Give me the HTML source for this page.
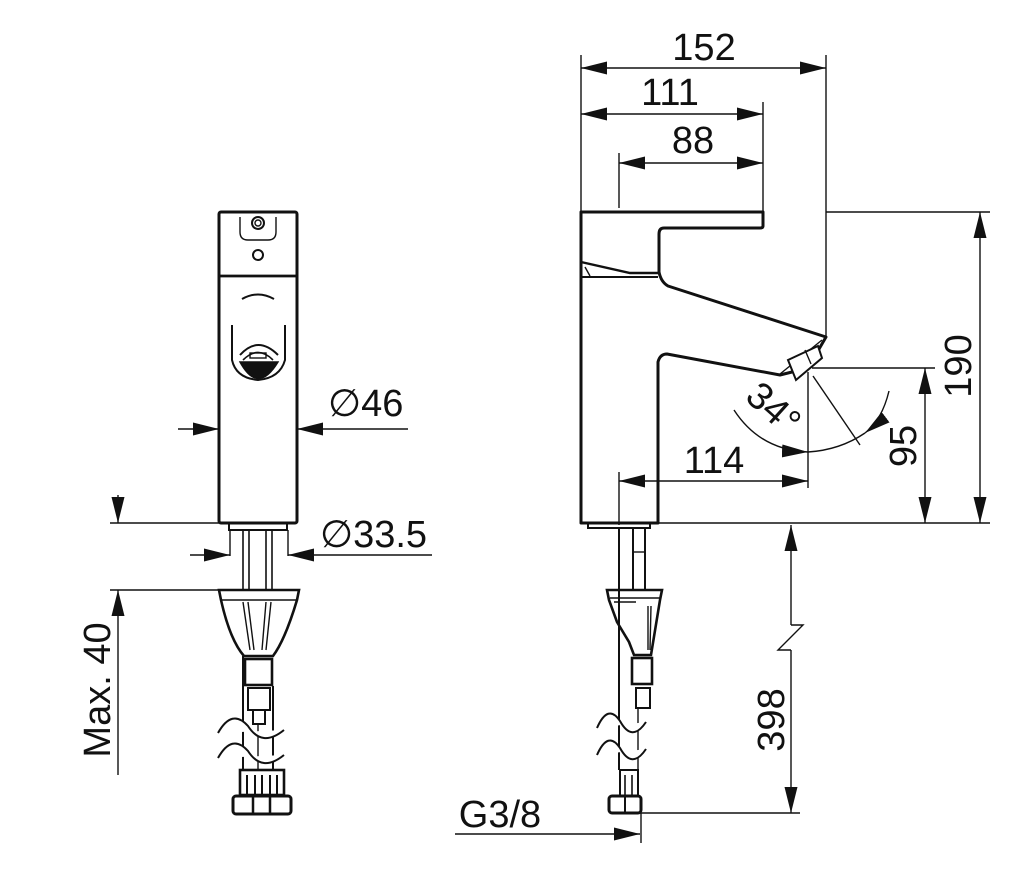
<!DOCTYPE html>
<html><head><meta charset="utf-8"><style>
html,body{margin:0;padding:0;background:#fff;}
svg{display:block;}
text{font-family:"Liberation Sans",sans-serif;fill:#111;}
</style></head><body>
<svg width="1024" height="875" viewBox="0 0 1024 875" xmlns="http://www.w3.org/2000/svg">
<defs>
<marker id="a" viewBox="0 0 26 13" refX="26" refY="6.5" markerWidth="26" markerHeight="13" markerUnits="userSpaceOnUse" orient="auto-start-reverse"><path d="M0,0 L26,6.5 L0,13 Z" fill="#111"/></marker>
</defs>
<g stroke="#111" fill="none" stroke-width="1.4">
<!-- LEFT VIEW body -->
<rect x="219" y="212" width="78" height="311" stroke-width="3" rx="2"/>
<line x1="219" y1="276" x2="297" y2="276" stroke-width="2.8"/>
<path d="M240,217 L240,232 Q240,240 248,240 L268,240 Q276,240 276,232 L276,217"/>
<circle cx="258" cy="223" r="6" stroke-width="2"/><circle cx="258" cy="223" r="3"/>
<circle cx="258" cy="255" r="5" stroke-width="2"/>
<path d="M242,299 Q258,290 274,299" stroke-width="2"/>
<path d="M232,325 L232,360 Q236,378 258,380 Q280,378 285,360 L285,325" stroke-width="2"/>
<path d="M240,355 Q258,335 278,355" stroke-width="2"/>
<path d="M243,360 Q258,345 273,360" stroke-width="1.6"/>
<path d="M240,362 Q258,395 278,362 Z" fill="#111"/>
<rect x="250" y="353" width="16" height="5"/>
<!-- Ø46 -->
<line x1="178" y1="429" x2="219" y2="429" marker-end="url(#a)"/>
<line x1="297" y1="429" x2="408" y2="429" marker-start="url(#a)"/>
<!-- under body -->
<line x1="110" y1="523" x2="219" y2="523"/>
<path d="M229,523 L229,530 L287,530 L287,523" stroke-width="2"/>
<line x1="230" y1="530" x2="230" y2="556"/><line x1="288" y1="530" x2="288" y2="556"/>
<rect x="243" y="530" width="6" height="60" stroke-width="1.6"/>
<rect x="266" y="530" width="6" height="60" stroke-width="1.6"/>
<line x1="190" y1="555" x2="230" y2="555" marker-end="url(#a)"/>
<line x1="288" y1="555" x2="432" y2="555" marker-start="url(#a)"/>
<!-- Max 40 -->
<line x1="118" y1="495" x2="118" y2="523" marker-end="url(#a)"/>
<line x1="118" y1="775" x2="118" y2="590" marker-end="url(#a)"/>
<line x1="110" y1="590" x2="220" y2="590"/>
<!-- left fitting -->
<path d="M219,590 L299,590 L297,600 Q285,640 273,656 L244,656 Q230,640 221,600 Z" stroke-width="2.6"/>
<line x1="221" y1="600" x2="297" y2="600"/>
<path d="M243,602 L250,650 M248,602 L254,650 M266,602 L262,650 M271,602 L266,650"/>
<rect x="245" y="659" width="27" height="26" stroke-width="2.6"/>
<rect x="248" y="688" width="22" height="22" stroke-width="2"/>
<rect x="253" y="710" width="12" height="14" stroke-width="2"/>
<line x1="243" y1="656" x2="243" y2="770" stroke-width="2"/><line x1="273" y1="686" x2="273" y2="770" stroke-width="2"/>
<line x1="258" y1="724" x2="258" y2="770"/>
<path d="M218,733 Q232,708 248,726 Q262,748 284,730" stroke-width="2" fill="#fff"/>
<path d="M218,758 Q232,733 248,751 Q262,773 284,755" stroke-width="2" fill="#fff"/>
<rect x="240" y="770" width="44" height="25" stroke-width="2.6"/>
<path d="M247,775 L247,795 M255,775 L255,795 M262,775 L262,795 M270,775 L270,795 M277,775 L277,795" stroke-width="2"/>
<rect x="233" y="796" width="58" height="18" rx="3" stroke-width="3"/>
<path d="M253,796 L253,814 M270,796 L270,814" stroke-width="2.5"/>

<!-- RIGHT VIEW -->
<line x1="581" y1="55" x2="581" y2="212"/>
<line x1="826" y1="55" x2="826" y2="337"/>
<line x1="763" y1="102" x2="763" y2="212"/>
<line x1="619" y1="153" x2="619" y2="208"/>
<line x1="581" y1="68" x2="826" y2="68" marker-start="url(#a)" marker-end="url(#a)"/>
<line x1="581" y1="114" x2="763" y2="114" marker-start="url(#a)" marker-end="url(#a)"/>
<line x1="619" y1="163" x2="763" y2="163" marker-start="url(#a)" marker-end="url(#a)"/>
<path d="M581,212 L763,212 L763,226 Q763,228 760,228 L664,228 Q659,228 659,234 L659,272 Q661,282 668,286 L826,337 L808,368 L780,375 L667,354 Q660,354 658,362 L658,523 L581,523 Z" stroke-width="3" stroke-linejoin="round"/>
<path d="M581,262 L630,273 L658,273" stroke-width="2.4"/>
<line x1="581" y1="277" x2="658" y2="277" stroke-width="2"/>
<path d="M585,267 L590,276" />
<path d="M822,340 L780,374" />
<path d="M788,360 L818,346 L822,358 L796,380 Z" stroke-width="2" fill="#fff"/>
<line x1="805" y1="350" x2="811" y2="364"/>
<path d="M588,523 L588,528 L650,528 L650,523" stroke-width="2"/>
<line x1="826" y1="212" x2="990" y2="212"/>
<line x1="980" y1="212" x2="980" y2="523" marker-start="url(#a)" marker-end="url(#a)"/>
<line x1="658" y1="523" x2="990" y2="523"/>
<line x1="812" y1="368" x2="935" y2="368"/>
<line x1="925" y1="368" x2="925" y2="523" marker-start="url(#a)" marker-end="url(#a)"/>
<line x1="808" y1="372" x2="808" y2="488"/>
<line x1="619" y1="472" x2="619" y2="525"/>
<line x1="619" y1="481" x2="808" y2="481" marker-start="url(#a)" marker-end="url(#a)"/>
<line x1="813" y1="376" x2="860" y2="445"/>
<path d="M734,410 Q760,450 808,452" marker-end="url(#a)"/>
<path d="M889,391 Q882,420 865,433" marker-end="url(#a)"/>
<path d="M865,433 Q840,450 808,452"/>
<line x1="791" y1="625" x2="791" y2="525" marker-end="url(#a)"/>
<path d="M791,625 L803,625 L778,650 L791,650"/>
<line x1="791" y1="650" x2="791" y2="813" marker-end="url(#a)"/>
<line x1="640" y1="813" x2="800" y2="813"/>
<line x1="455" y1="834" x2="640" y2="834" marker-end="url(#a)"/>
<line x1="641" y1="813" x2="641" y2="843"/>
<line x1="619" y1="528" x2="619" y2="770" stroke-width="2"/>
<rect x="633" y="528" width="12" height="62" stroke-width="2"/>
<line x1="633" y1="552" x2="645" y2="552"/>
<path d="M607,590 L662,590 L660,600 L651,655 L634,655 L629,642 L617,622 L609,600 Z" stroke-width="2.6"/>
<line x1="610" y1="598" x2="660" y2="598"/><line x1="614" y1="602" x2="636" y2="602"/>
<path d="M648,606 L648,650 M651,606 L650,650"/>
<rect x="632" y="658" width="20" height="26" stroke-width="2.6"/>
<rect x="636" y="688" width="14" height="20" stroke-width="2"/>
<line x1="638" y1="708" x2="638" y2="770"/>
<path d="M597,728 Q608,703 620,721 Q632,743 646,722" stroke-width="2" fill="#fff"/>
<path d="M597,755 Q608,730 620,748 Q632,770 646,749" stroke-width="2" fill="#fff"/>
<rect x="620" y="770" width="18" height="26" stroke-width="2"/>
<path d="M625,775 L625,795 M632,775 L632,795" stroke-width="1.6"/>
<rect x="609" y="796" width="32" height="17" rx="3" stroke-width="3"/>
<line x1="625" y1="796" x2="625" y2="813" stroke-width="2"/>
</g>
<g font-size="38">
<text x="328" y="416">∅46</text>
<text x="320" y="547">∅33.5</text>
<text x="704" y="60" text-anchor="middle">152</text>
<text x="670" y="105" text-anchor="middle">111</text>
<text x="693" y="153" text-anchor="middle">88</text>
<text x="714" y="473" text-anchor="middle">114</text>
<text x="500" y="827" text-anchor="middle">G3/8</text>
<text transform="translate(110,690) rotate(-90)" text-anchor="middle">Max. 40</text>
<text transform="translate(971,366) rotate(-90)" text-anchor="middle">190</text>
<text transform="translate(916,446) rotate(-90)" text-anchor="middle">95</text>
<text transform="translate(784,720) rotate(-90)" text-anchor="middle">398</text>
<text transform="translate(765,418) rotate(42)" text-anchor="middle">34°</text>
</g>
</svg>
</body></html>
